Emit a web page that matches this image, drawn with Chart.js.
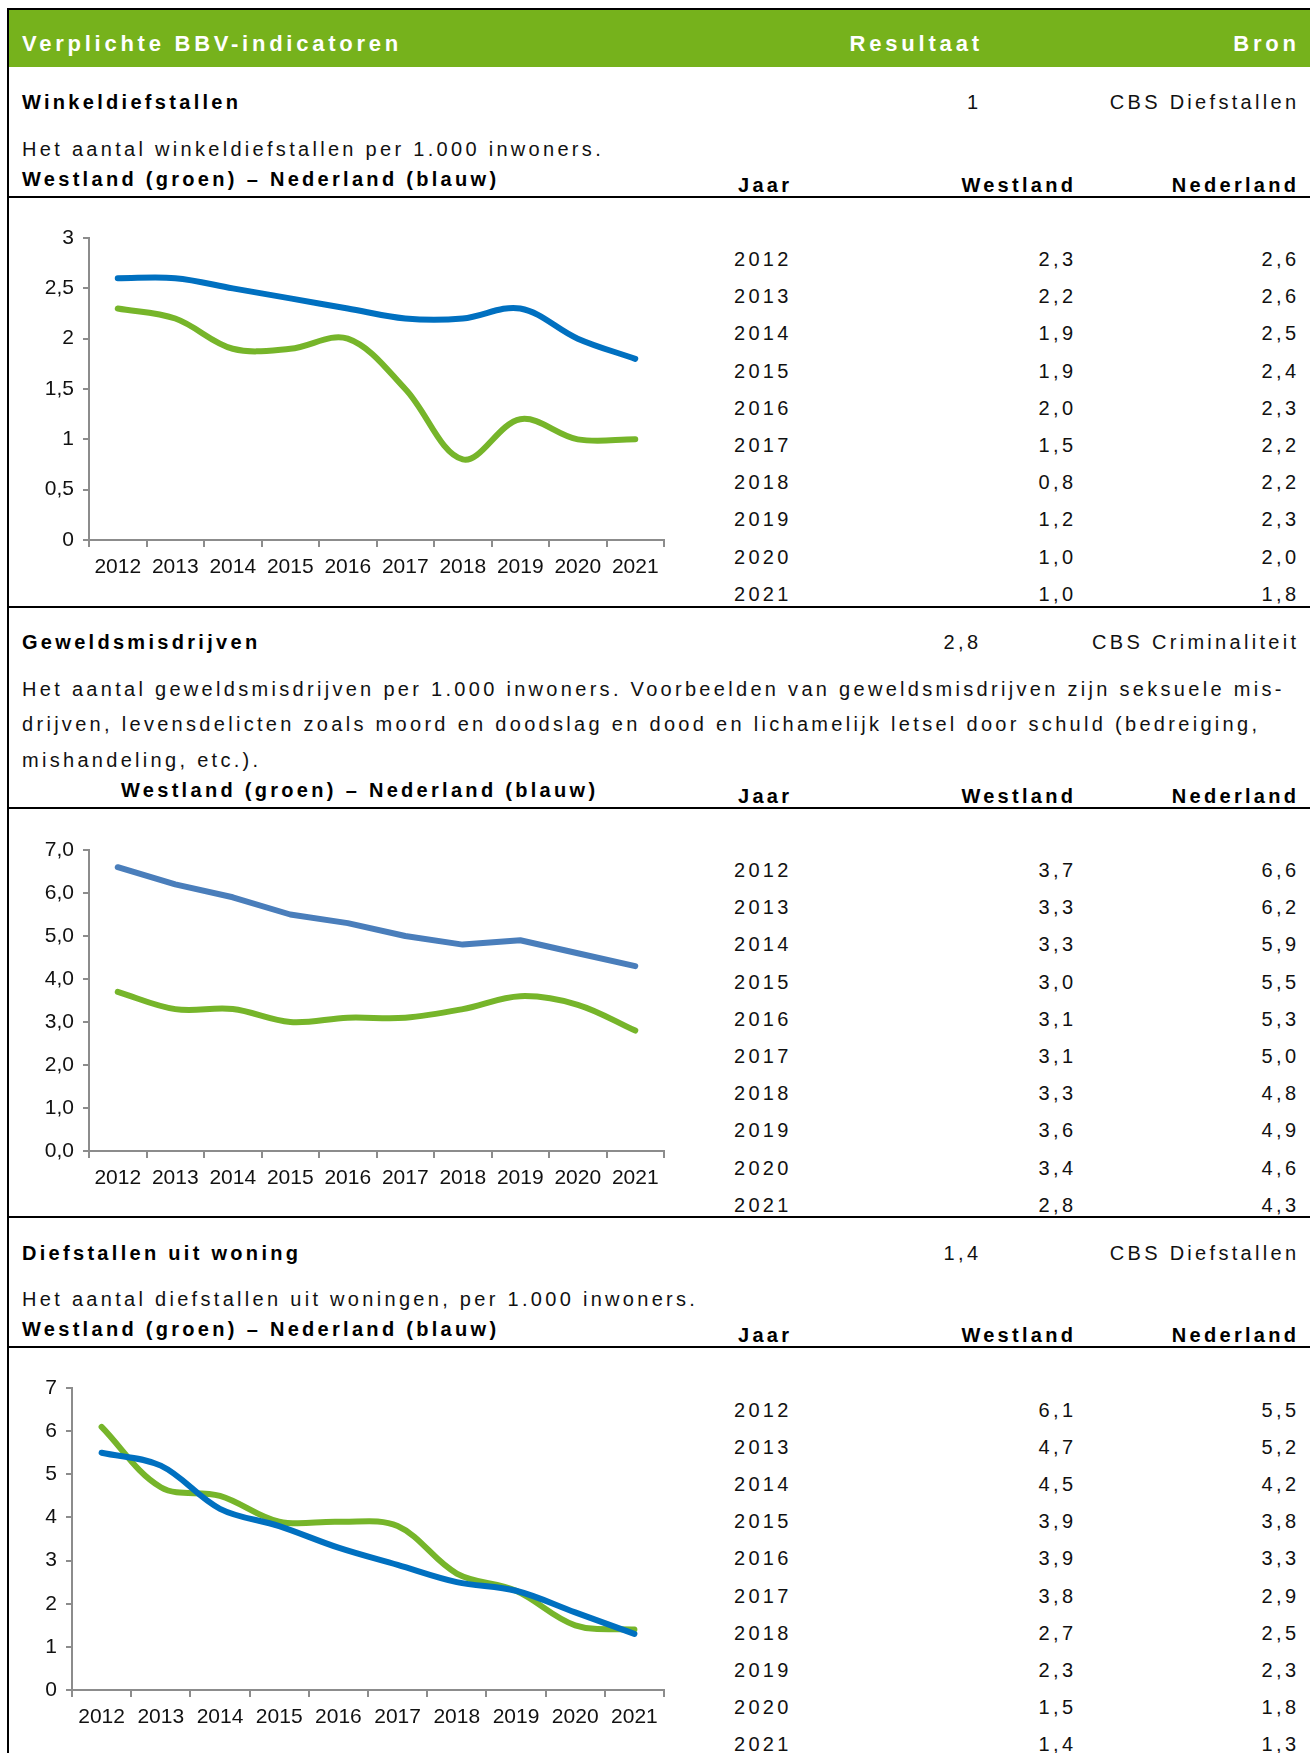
<!DOCTYPE html>
<html>
<head>
<meta charset="utf-8">
<script src="https://cdn.jsdelivr.net/npm/chart.js@4.4.0/dist/chart.umd.min.js"></script>
<style>
  html, body { margin: 0; padding: 0; background: #fff; }
  #page { position: relative; width: 1310px; height: 1753px; overflow: hidden;
          font-family: "Liberation Sans", Arial, sans-serif; color: #111; }
  .t { position: absolute; white-space: nowrap; }
  .b { font-weight: bold; color: #000; }
  .rule { position: absolute; background: #000; }
  .box { position: absolute; }
</style>
</head>
<body>
<div id="page"></div>
<script>
const years = ['2012', '2013', '2014', '2015', '2016', '2017', '2018', '2019', '2020', '2021'];

// Winkeldiefstallen
const winkelWestland = [2.3, 2.2, 1.9, 1.9, 2.0, 1.5, 0.8, 1.2, 1.0, 1.0];
const winkelNederland = [2.6, 2.6, 2.5, 2.4, 2.3, 2.2, 2.2, 2.3, 2.0, 1.8];
const winkelTicks = [0, 0.5, 1, 1.5, 2, 2.5, 3];

// Geweldsmisdrijven
const geweldWestland = [3.7, 3.3, 3.3, 3.0, 3.1, 3.1, 3.3, 3.6, 3.4, 2.8];
const geweldNederland = [6.6, 6.2, 5.9, 5.5, 5.3, 5.0, 4.8, 4.9, 4.6, 4.3];
const geweldTicks = [0, 1, 2, 3, 4, 5, 6, 7];

// Diefstallen uit woning
const woningWestland = [6.1, 4.7, 4.5, 3.9, 3.9, 3.8, 2.7, 2.3, 1.5, 1.4];
const woningNederland = [5.5, 5.2, 4.2, 3.8, 3.3, 2.9, 2.5, 2.3, 1.8, 1.3];
const woningTicks = [0, 1, 2, 3, 4, 5, 6, 7];

const GREEN = '#76b52a';
const BLUE = '#0070c0';
const BLUE_LIGHT = '#4a7ebb';
const PAGE_W = 1310;
const page = document.getElementById('page');

const comma = v => v.toFixed(1).replace('.', ',');

// place a text by its baseline
function put(text, x, base, o = {}) {
  const size = o.size || 20;
  const ls = o.ls === undefined ? 3.3 : o.ls;
  const d = document.createElement('div');
  d.className = 't' + (o.bold ? ' b' : '');
  d.textContent = text;
  d.style.fontSize = size + 'px';
  d.style.lineHeight = size + 'px';
  d.style.letterSpacing = ls + 'px';
  d.style.top = (base - 0.8465 * size) + 'px';
  if (o.color) d.style.color = o.color;
  if (o.right) d.style.right = (PAGE_W - x - ls) + 'px';
  else d.style.left = x + 'px';
  page.appendChild(d);
}

function rule(x, y, w, h) {
  const d = document.createElement('div');
  d.className = 'rule';
  Object.assign(d.style, { left: x + 'px', top: y + 'px', width: w + 'px', height: h + 'px' });
  page.appendChild(d);
}

// frame + header
rule(7, 8, PAGE_W - 7, 2);
rule(7, 8, 2, 1753);
const head = document.createElement('div');
head.className = 'box';
Object.assign(head.style, { left: '9px', top: '10px', width: (PAGE_W - 9) + 'px', height: '57px', background: '#76b21c' });
page.appendChild(head);
put('Verplichte BBV-indicatoren', 22, 52, { bold: true, size: 22, ls: 3.75, color: '#fff' });
put('Resultaat', 979, 52, { bold: true, size: 22, ls: 3.8, color: '#fff', right: true });
put('Bron', 1296, 52, { bold: true, size: 22, ls: 3.8, color: '#fff', right: true });

function table(westland, nederland, firstBase) {
  for (let i = 0; i < years.length; i++) {
    const y = firstBase + i * 37.2;
    put(years[i], 734, y);
    put(comma(westland[i]), 1073, y, { right: true });
    put(comma(nederland[i]), 1296, y, { right: true });
  }
}

function colHeads(base) {
  put('Jaar', 738, base, { bold: true });
  put('Westland', 1073, base, { bold: true, right: true });
  put('Nederland', 1296, base, { bold: true, right: true });
}

function lineChart(plot, ticks, fmt, sets) {
  const w = 680, padTop = 40, axisH = 62;
  const h = (plot.bottom - plot.top) + padTop + axisH;
  const box = document.createElement('div');
  box.className = 'box';
  Object.assign(box.style, { left: '0px', top: (plot.top - padTop) + 'px', width: w + 'px', height: h + 'px' });
  const cv = document.createElement('canvas');
  cv.width = w; cv.height = h;
  box.appendChild(cv);
  page.appendChild(box);

  const axisColor = '#8c8c8c';
  const tickFont = { family: '"Liberation Sans", Arial, sans-serif', size: 21 };
  new Chart(cv.getContext('2d'), {
    type: 'line',
    data: {
      labels: years,
      datasets: sets.map(s => ({
        data: s.data,
        borderColor: s.color,
        borderWidth: 6,
        borderCapStyle: 'round',
        borderJoinStyle: 'round',
        pointRadius: 0,
        tension: s.tension,
        order: s.order,
        fill: false
      }))
    },
    options: {
      responsive: false,
      devicePixelRatio: 1,
      animation: false,
      layout: { padding: { top: padTop, right: w - plot.right, bottom: 0, left: 0 } },
      plugins: { legend: { display: false }, tooltip: { enabled: false } },
      scales: {
        x: {
          offset: true,
          grid: { offset: true, drawOnChartArea: false, tickLength: 7, color: axisColor, lineWidth: 2 },
          border: { color: axisColor, width: 2 },
          ticks: { color: '#111', font: tickFont, padding: 8, maxRotation: 0, autoSkip: false },
          afterFit: s => { s.height = axisH; }
        },
        y: {
          min: ticks[0],
          max: ticks[ticks.length - 1],
          afterBuildTicks: s => { s.ticks = ticks.map(v => ({ value: v })); },
          grid: { drawOnChartArea: false, tickLength: 6, color: axisColor, lineWidth: 2 },
          border: { color: axisColor, width: 2 },
          ticks: { color: '#111', font: tickFont, padding: 9, callback: fmt },
          afterFit: s => { s.width = plot.left; }
        }
      }
    }
  });
}

// ---- section 1: Winkeldiefstallen
put('Winkeldiefstallen', 22, 109, { bold: true });
put('1', 978, 109, { right: true });
put('CBS Diefstallen', 1296, 109, { right: true });
put('Het aantal winkeldiefstallen per 1.000 inwoners.', 22, 156);
put('Westland (groen) \u2013 Nederland (blauw)', 22, 186, { bold: true });
colHeads(191.5);
rule(7, 196, PAGE_W - 7, 2);
lineChart({ left: 89, top: 238, right: 664, bottom: 540 }, winkelTicks,
  v => (Number.isInteger(v) ? String(v) : comma(v)),
  [{ data: winkelWestland, color: GREEN, tension: 0.35, order: 1 },
   { data: winkelNederland, color: BLUE, tension: 0.35, order: 0 }]);
table(winkelWestland, winkelNederland, 266);
rule(7, 606, PAGE_W - 7, 2);

// ---- section 2: Geweldsmisdrijven
put('Geweldsmisdrijven', 22, 649, { bold: true });
put('2,8', 978, 649, { right: true });
put('CBS Criminaliteit', 1296, 649, { right: true });
put('Het aantal geweldsmisdrijven per 1.000 inwoners. Voorbeelden van geweldsmisdrijven zijn seksuele mis-', 22, 695.5);
put('drijven, levensdelicten zoals moord en doodslag en dood en lichamelijk letsel door schuld (bedreiging,', 22, 731);
put('mishandeling, etc.).', 22, 767);
put('Westland (groen) \u2013 Nederland (blauw)', 121, 797, { bold: true });
colHeads(803);
rule(7, 807, PAGE_W - 7, 2);
lineChart({ left: 89, top: 850, right: 664, bottom: 1151 }, geweldTicks, v => comma(v),
  [{ data: geweldWestland, color: GREEN, tension: 0.35, order: 1 },
   { data: geweldNederland, color: BLUE_LIGHT, tension: 0, order: 0 }]);
table(geweldWestland, geweldNederland, 877);
rule(7, 1216, PAGE_W - 7, 2);

// ---- section 3: Diefstallen uit woning
put('Diefstallen uit woning', 22, 1260, { bold: true });
put('1,4', 978, 1260, { right: true });
put('CBS Diefstallen', 1296, 1260, { right: true });
put('Het aantal diefstallen uit woningen, per 1.000 inwoners.', 22, 1306);
put('Westland (groen) \u2013 Nederland (blauw)', 22, 1336, { bold: true });
colHeads(1341.5);
rule(7, 1346, PAGE_W - 7, 2);
lineChart({ left: 72, top: 1388, right: 664, bottom: 1690 }, woningTicks, v => String(v),
  [{ data: woningWestland, color: GREEN, tension: 0.35, order: 1 },
   { data: woningNederland, color: BLUE, tension: 0.35, order: 0 }]);
table(woningWestland, woningNederland, 1416.5);
</script>
</body>
</html>
